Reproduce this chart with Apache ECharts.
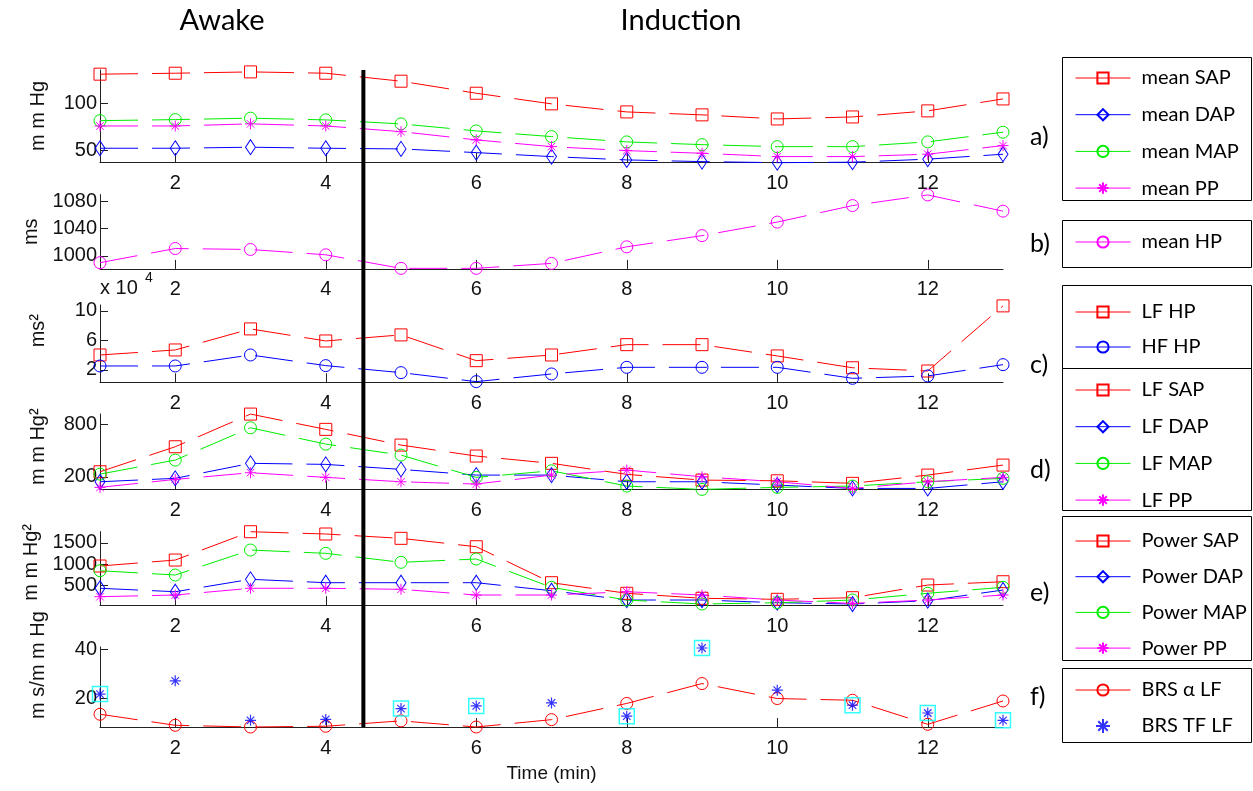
<!DOCTYPE html>
<html><head><meta charset="utf-8">
<script src="https://cdn.jsdelivr.net/npm/echarts@6/dist/echarts.min.js"></script>
<style>html,body{margin:0;padding:0;background:#fff}#c{width:1253px;height:791px}</style>
</head><body><div id="c"></div><script>
// ---------------- data ----------------
const minutes = [1,2,3,4,5,6,7,8,9,10,11,12,13];
const xTicks = [2,4,6,8,10,12];
const boundaryMinute = 4.5;

const meanSAP = [130.6,131.6,133.0,131.6,123.2,110.5,99.3,90.8,87.7,83.4,85.5,91.9,104.5];
const meanDAP = [52.5,52.5,53.6,52.5,51.8,47.9,43.7,40.2,38.4,37.3,37.8,41.0,46.2];
const meanMAP = [81.6,82.7,84.2,82.4,78.2,70.8,64.8,59.2,56.3,54.2,54.2,59.2,69.4];
const meanPP  = [76.0,76.0,78.2,76.0,70.0,61.3,54.2,50.0,47.2,43.7,43.7,46.2,55.3];

const meanHP = [990.1,1010.9,1009.5,1001.7,981.8,981.8,989.1,1013.4,1029.8,1049.7,1073.9,1089.5,1065.7];

const lfHP = [4.03,4.71,7.56,5.93,6.75,3.26,4.03,5.43,5.43,3.90,2.30,1.86,10.68]; // x 10^4
const hfHP = [2.54,2.54,4.03,2.59,1.64,0.42,1.46,2.36,2.36,2.36,0.87,1.19,2.72];

const lfSAP = [257,542,914,740,561,436,353,227,162,154,125,219,333];
const lfDAP = [143,182,353,341,284,219,219,143,143,105,67,67,143];
const lfMAP = [230,390,758,572,447,193,268,94,56,79,94,143,182];
const lfPP  = [79,170,246,193,143,117,219,276,200,143,67,143,193];

const powSAP = [953,1094,1762,1708,1606,1408,559,309,191,167,205,504,582];
const powDAP = [427,346,639,559,559,559,370,150,150,87,56,134,386];
const powMAP = [842,740,1330,1252,1040,1118,450,150,56,87,150,309,450];
const powPP  = [229,268,427,427,403,268,268,346,268,150,71,150,268];

const brsAlphaLF = [13.6,9.1,8.4,8.7,10.9,8.4,11.4,18.0,26.1,20.0,19.3,9.5,19.0];
const brsTFLF    = [21.8,27.2,11.1,11.5,15.9,17.0,18.2,12.8,40.6,23.4,17.3,14.1,11.1];
const brsTFSig   = [1,0,0,0,1,1,0,1,1,0,1,1,1];

const yTicksA = [50,100];
const yTicksB = [1000,1040,1080];
const yTicksC = [2,6,10];
const yTicksD = [200,800];
const yTicksE = [500,1000,1500];
const yTicksF = [20,40];

const yNames = ['m m Hg','ms','ms\u00B2','m m Hg\u00B2','m m Hg\u00B2','m s/m m Hg'];
const panelLetters = ['a)','b)','c)','d)','e)','f)'];

// ---------------- layout ----------------
const GL = 100, GW = 903;
const panels = [
  {top:70,    height:92,   min:38,   max:135,  ticks:yTicksA, namePad:0},
  {top:194.6, height:74.3, min:981,  max:1090, ticks:yTicksB, namePad:0},
  {top:305,   height:77.3, min:0.33, max:10.8, ticks:yTicksC, namePad:26},
  {top:414,   height:75.4, min:56,   max:915,  ticks:yTicksD, namePad:10},
  {top:531.6, height:73.6, min:28,   max:1765, ticks:yTicksE, namePad:12},
  {top:647,   height:80,   min:8.4,  max:41,   ticks:yTicksF, namePad:44}
];
const tickFont = 'Liberation Sans';
const legFont = 'Lato';

const RED='#ff0000', BLUE='#0000ff', GREEN='#00ee00', MAG='#ff00ff', CYAN='#00ffff';
const STAR = 'path://M5,0L5,10M0,5L10,5M1.6,1.6L8.4,8.4M1.6,8.4L8.4,1.6';
const DASH = [38,14];

const pair = arr => minutes.map((m,i)=>[m, arr[i]]);

function lineSeries(name, arr, gi, color, symbol, size){
  return {
    name, type:'line', xAxisIndex:gi, yAxisIndex:gi, data:pair(arr),
    symbol, symbolSize:size, showSymbol:true, clip:false,
    itemStyle:{color:'rgba(0,0,0,0)', borderColor:color, borderWidth:1},
    lineStyle:{color, width:1, type:DASH},
    emphasis:{disabled:true}, z:3
  };
}

const grid = panels.map(p=>({left:GL, width:GW, top:p.top, height:p.height, containLabel:false}));
const xAxis = panels.map((p,i)=>({
  type:'value', gridIndex:i, min:1, max:13,
  axisLine:{show:true, onZero:false, lineStyle:{color:'#222', width:1}},
  axisTick:{show:true, inside:true, length:9, customValues:xTicks, lineStyle:{color:'#222'}},
  axisLabel:{show:true, customValues:xTicks, fontSize:20, fontFamily:tickFont, color:'#111', margin:11,
             formatter:v=>String(v)},
  splitLine:{show:false},
  name: i===5 ? 'Time (min)' : '',
  nameLocation:'middle', nameGap:37,
  nameTextStyle:{fontSize:19, fontFamily:tickFont, color:'#111'}
}));
const yAxis = panels.map((p,i)=>({
  type:'value', gridIndex:i, min:p.min, max:p.max,
  axisLine:{show:true, lineStyle:{color:'#222', width:1}},
  axisTick:{show:true, inside:true, length:8, customValues:p.ticks, lineStyle:{color:'#222'}},
  axisLabel:{show:true, customValues:p.ticks, fontSize:20, fontFamily:tickFont, color:'#111', margin:3,
             formatter:v=>String(v)},
  splitLine:{show:false},
  name:yNames[i], nameLocation:'middle', nameGap:52,
  nameTextStyle:{fontSize:20, fontFamily:tickFont, color:'#111', padding:[0,0,0,p.namePad]}
}));

const series = [
  lineSeries('mean SAP', meanSAP, 0, RED, 'rect', 12),
  lineSeries('mean DAP', meanDAP, 0, BLUE, 'diamond', [10,15]),
  lineSeries('mean MAP', meanMAP, 0, GREEN, 'circle', 12),
  lineSeries('mean PP', meanPP, 0, MAG, STAR, 11),
  lineSeries('mean HP', meanHP, 1, MAG, 'circle', 12),
  lineSeries('LF HP', lfHP, 2, RED, 'rect', 12),
  lineSeries('HF HP', hfHP, 2, BLUE, 'circle', 12),
  lineSeries('LF SAP', lfSAP, 3, RED, 'rect', 12),
  lineSeries('LF DAP', lfDAP, 3, BLUE, 'diamond', [10,15]),
  lineSeries('LF MAP', lfMAP, 3, GREEN, 'circle', 12),
  lineSeries('LF PP', lfPP, 3, MAG, STAR, 11),
  lineSeries('Power SAP', powSAP, 4, RED, 'rect', 12),
  lineSeries('Power DAP', powDAP, 4, BLUE, 'diamond', [10,15]),
  lineSeries('Power MAP', powMAP, 4, GREEN, 'circle', 12),
  lineSeries('Power PP', powPP, 4, MAG, STAR, 11),
  lineSeries('BRS \u03B1 LF', brsAlphaLF, 5, RED, 'circle', 12),
  {
    name:'BRS TF sig', type:'scatter', xAxisIndex:5, yAxisIndex:5,
    data: minutes.map((m,i)=> brsTFSig[i] ? [m, brsTFLF[i]] : null).filter(d=>d),
    symbol:'rect', symbolSize:15, clip:false,
    itemStyle:{color:'rgba(0,0,0,0)', borderColor:CYAN, borderWidth:1.5},
    emphasis:{disabled:true}, z:3
  },
  {
    name:'BRS TF LF', type:'scatter', xAxisIndex:5, yAxisIndex:5, data:pair(brsTFLF),
    symbol:STAR, symbolSize:11, clip:false,
    itemStyle:{color:'rgba(0,0,0,0)', borderColor:BLUE, borderWidth:1.2},
    emphasis:{disabled:true}, z:4
  }
];

const legendGroups = [
  {data:['mean SAP','mean DAP','mean MAP','mean PP'], top:68, gap:16.7},
  {data:['mean HP'], top:232, gap:16},
  {data:['LF HP','HF HP'], top:302, gap:15},
  {data:['LF SAP','LF DAP','LF MAP','LF PP'], top:380, gap:16.7},
  {data:['Power SAP','Power DAP','Power MAP','Power PP'], top:531, gap:15.7},
  {data:['BRS \u03B1 LF','BRS TF LF'], top:680, gap:16}
];
const legend = legendGroups.map(g=>({
  data:g.data, top:g.top, left:1075, orient:'vertical', itemGap:g.gap,
  itemWidth:55, itemHeight:14, padding:0, selectedMode:false,
  lineStyle:{type:'solid', width:1},
  textStyle:{fontSize:20, fontFamily:legFont, color:'#000', lineHeight:20, padding:[0,0,0,6]}
}));

const chart = echarts.init(document.getElementById('c'), null, {renderer:'canvas'});
chart.setOption({
  animation:false, backgroundColor:'#fff',
  grid, xAxis, yAxis, series, legend
});

// ---------- annotations (boxes, titles, labels, phase boundary) ----------
const boxes = [[57,143],[220,47],[285,83],[368,142],[516,144],[668,74]];
const letterY = [137,244,365,470,593,697];
const graphics = [];
boxes.forEach(b=>graphics.push({type:'rect', shape:{x:1062.5, y:b[0]+0.5, width:189, height:b[1]},
  style:{fill:'none', stroke:'#000', lineWidth:1}, z:10}));
panelLetters.forEach((t,i)=>graphics.push({type:'text', x:1030, y:letterY[i],
  style:{text:t, fontSize:25, fontFamily:legFont, fill:'#000', align:'left', verticalAlign:'middle'}, z:10}));
graphics.push({type:'text', x:222, y:21, style:{text:'Awake', fontSize:29, fontFamily:legFont, fill:'#000', align:'center', verticalAlign:'middle'}});
graphics.push({type:'text', x:681, y:21, style:{text:'Induction', fontSize:29, fontFamily:legFont, fill:'#000', align:'center', verticalAlign:'middle'}});
graphics.push({type:'text', x:100, y:288, style:{text:'x 10', fontSize:20, fontFamily:tickFont, fill:'#111', align:'left', verticalAlign:'middle'}});
graphics.push({type:'text', x:145, y:278, style:{text:'4', fontSize:14, fontFamily:tickFont, fill:'#111', align:'left', verticalAlign:'middle'}});

const vx = chart.convertToPixel({xAxisIndex:0}, boundaryMinute);
const vTop = chart.convertToPixel({yAxisIndex:0}, panels[0].max);
const vBot = chart.convertToPixel({yAxisIndex:5}, panels[5].min);
graphics.push({type:'line', shape:{x1:vx, y1:vTop, x2:vx, y2:vBot}, style:{stroke:'#000', lineWidth:4}, z:20});

chart.setOption({graphic: graphics});
</script></body></html>
